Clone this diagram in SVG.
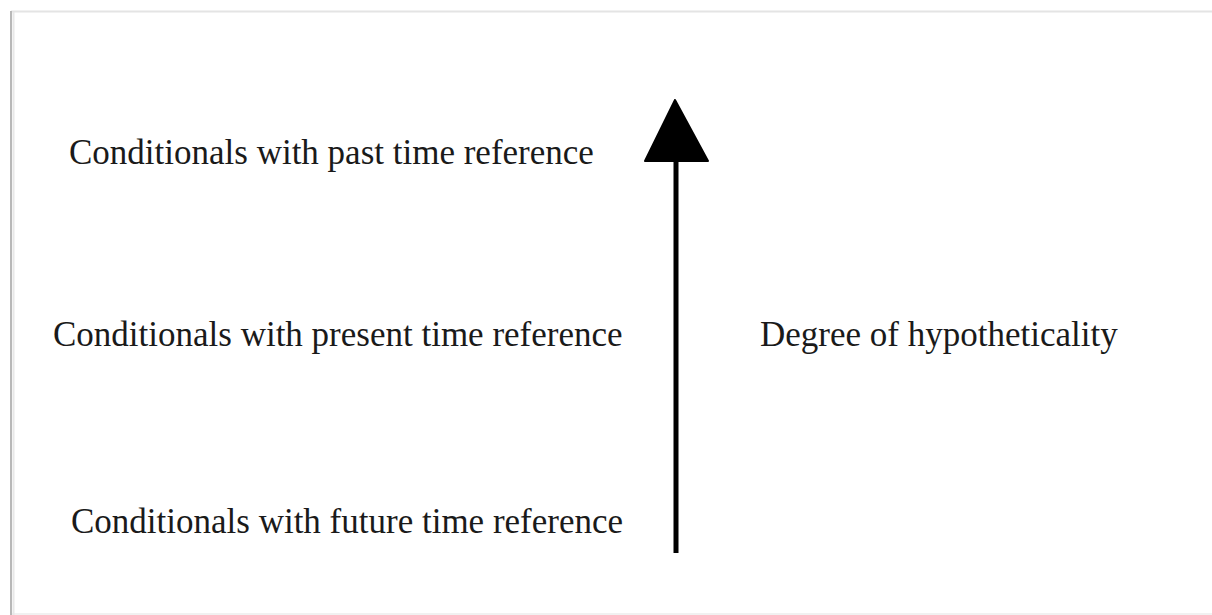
<svg xmlns="http://www.w3.org/2000/svg" width="1212" height="615" viewBox="0 0 1212 615">
  <style>
    .lbl { font-family: "Liberation Serif", "Times New Roman", serif; font-size: 35px; fill: #1a1a1a; }
  </style>
  <rect x="0" y="0" width="1212" height="615" fill="#ffffff"/>
  <g id="frame">
    <line x1="11" y1="11.5" x2="1212" y2="11.5" stroke="#e4e4e4" stroke-width="2"/>
    <line x1="11" y1="614" x2="1212" y2="614" stroke="#ececec" stroke-width="1.5"/>
    <line x1="11" y1="11" x2="11" y2="615" stroke="#b8b8b8" stroke-width="2"/>
    <line x1="13.5" y1="12" x2="13.5" y2="615" stroke="#e8e8e8" stroke-width="2"/>
  </g>
  <g id="connectors">
    <line x1="676" y1="553" x2="676" y2="158" stroke="#000000" stroke-width="5"/>
    <polygon points="675,100 645,161 708,161" fill="#000000" stroke="#000000" stroke-width="2" stroke-linejoin="round"/>
  </g>
  <g id="past"><text class="lbl" x="69" y="164">Conditionals with past time reference</text></g>
  <g id="present"><text class="lbl" x="53" y="346">Conditionals with present time reference</text></g>
  <g id="future"><text class="lbl" x="71" y="533">Conditionals with future time reference</text></g>
  <g id="degree"><text class="lbl" x="760" y="346">Degree of hypotheticality</text></g>
</svg>
